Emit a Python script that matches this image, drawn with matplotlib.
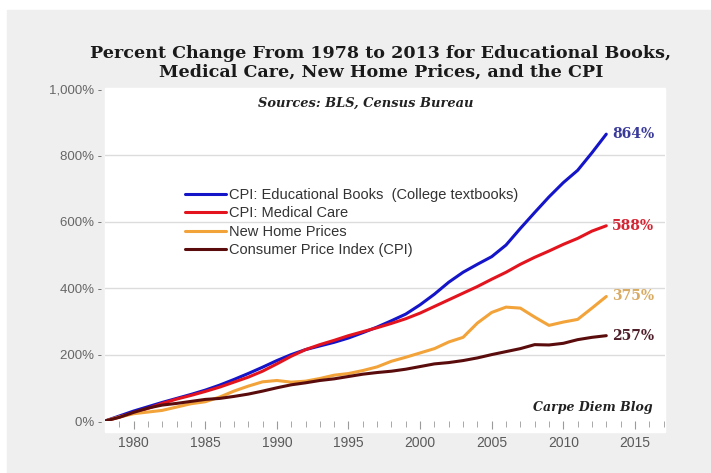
import numpy as np
import matplotlib.pyplot as plt
from matplotlib.patches import Rectangle

years = np.arange(1978, 2014)

# percent change since 1978
edu_books = [0, 15, 30, 43, 56, 68, 80, 93, 108, 125, 143, 162, 182, 200, 215, 226,
             237, 250, 266, 283, 302, 322, 350, 382, 418, 448, 472, 495, 530, 580,
             628, 675, 718, 755, 808, 864]
medical = [0, 12, 25, 38, 53, 66, 77, 89, 102, 117, 132, 150, 172, 195, 215, 230,
           243, 257, 269, 281, 294, 308, 325, 345, 365, 385, 405, 427, 448, 472,
           493, 512, 532, 550, 572, 588]
home = [0, 12, 22, 27, 32, 42, 52, 58, 72, 90, 105, 118, 122, 117, 120, 128,
        138, 143, 152, 163, 180, 192, 205, 218, 238, 252, 295, 327, 343, 340,
        313, 288, 298, 306, 340, 375]
cpi = [0, 11, 26, 39, 48, 53, 59, 65, 68, 74, 81, 90, 100, 109, 115, 122,
       127, 134, 141, 146, 150, 156, 164, 172, 176, 182, 190, 200, 209, 218,
       230, 229, 234, 245, 252, 257]

names = ['CPI: Educational Books  (College textbooks)', 'CPI: Medical Care',
         'New Home Prices', 'Consumer Price Index (CPI)']
colores = ['#1414c8', '#e3141e', '#f2a33a', '#5a0c0c']
col_texto = ['#3a3a9a', '#d42434', '#d9ab62', '#4e1e2a']
series = [edu_books, medical, home, cpi]
finales = ['864%', '588%', '375%', '257%']

W, H = 711, 473
fig = plt.figure(figsize=(W/100, H/100), dpi=100, facecolor='white')
fig.patches.append(Rectangle((7/W, 0), 1, 1 - 10/H, transform=fig.transFigure,
                             color='#efefef', zorder=-10))
fig.patches.append(Rectangle((105/W, 1 - 432/H), 560/W, (432 - 88)/H,
                             transform=fig.transFigure, color='white', zorder=-9))

ax = fig.add_axes([105/W, 1 - 421/H, 560/W, (421 - 89)/H])
ax.set_facecolor('white')

for v in [200, 400, 600, 800]:
    ax.axhline(v, color='#dcdcdc', lw=1, zorder=1)

for s, c, n in zip(series, colores, names):
    ax.plot(years, s, color=c, lw=2.2, label=n, zorder=3, solid_capstyle='round')

for s, c, t in zip(series, col_texto, finales):
    ax.annotate(t, (years[-1], s[-1]), xytext=(4, 0), textcoords='offset points',
                va='center', ha='left', color=c, fontsize=10, fontweight='bold',
                family='DejaVu Serif')

ax.set_xlim(1978, 2017.1)
ax.set_ylim(0, 1000)
for sp in ax.spines.values():
    sp.set_visible(False)

ax.set_xticks(range(1980, 2016, 5))
ax.set_xticks(range(1979, 2018), minor=True)
ax.tick_params(axis='x', which='major', length=6, color='#9a9a9a', labelsize=10,
               labelcolor='#5a5a5a', pad=5)
ax.tick_params(axis='x', which='minor', length=4, color='#9a9a9a')
ax.set_yticks(range(0, 1001, 200))
ax.set_yticklabels(['0% -', '200% -', '400% -', '600% -', '800% -', '1,000% -'])
ax.tick_params(axis='y', length=0, labelsize=9.5, labelcolor='#666666', pad=2)
for lab in ax.get_xticklabels() + ax.get_yticklabels():
    lab.set_family('Liberation Sans')

leg = ax.legend(loc='upper left', bbox_to_anchor=(185/W, 1 - 188/H),
                bbox_transform=fig.transFigure, frameon=False, borderpad=0,
                borderaxespad=0, handlelength=2.8, handletextpad=0.25,
                labelspacing=0.3, prop={'family': 'Liberation Sans', 'size': 10.5})
for t in leg.get_texts():
    t.set_color('#333333')

fig.text(381/W, 1 - 63/H,
         'Percent Change From 1978 to 2013 for Educational Books,\n'
         'Medical Care, New Home Prices, and the CPI',
         ha='center', va='center', fontsize=12.6, fontweight='bold',
         family='DejaVu Serif', color='#1a1a1a', linespacing=1.1)
fig.text(366/W, 1 - 103/H, 'Sources: BLS, Census Bureau', ha='center', va='center',
         fontsize=9.4, fontweight='bold', style='italic', family='DejaVu Serif',
         color='#222222')
fig.text(653/W, 1 - 407/H, 'Carpe Diem Blog', ha='right', va='center',
         fontsize=9, fontweight='bold', style='italic', family='DejaVu Serif',
         color='#222222')

plt.savefig('out.png', dpi=100, facecolor=fig.get_facecolor())
